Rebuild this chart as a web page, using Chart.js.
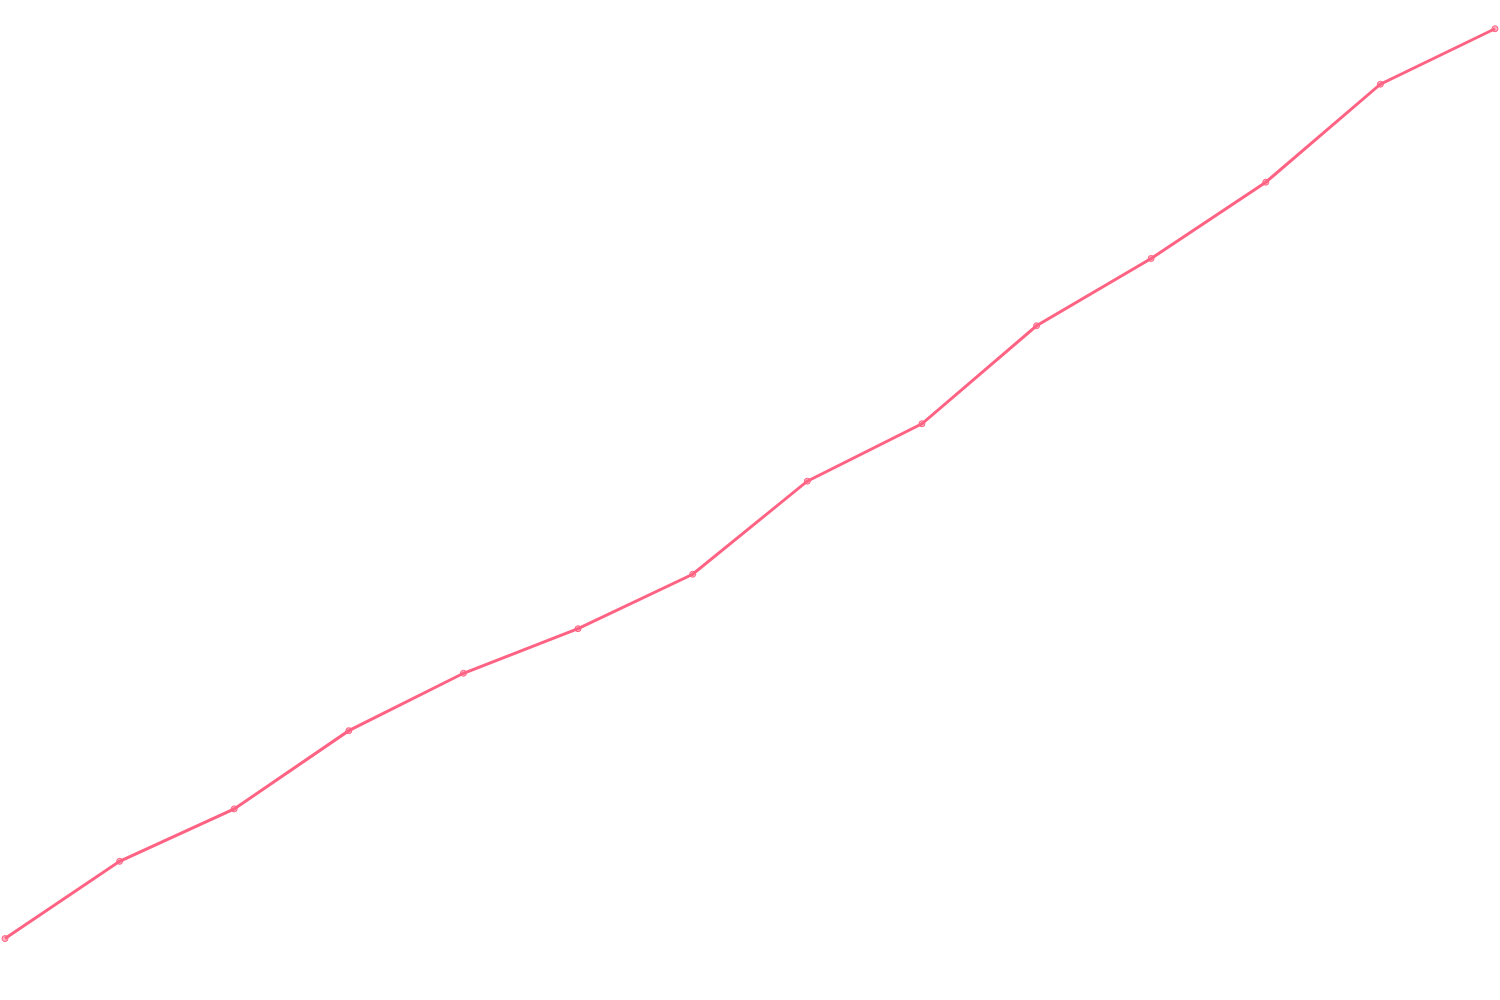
<!DOCTYPE html>
<html>
<head>
<meta charset="utf-8">
<script src="https://cdn.jsdelivr.net/npm/chart.js@4"></script>
<style>
html,body{margin:0;padding:0;background:#fff;}
#wrap{width:1500px;height:1000px;}
</style>
</head>
<body>
<div id="wrap"><canvas id="c"></canvas></div>
<script>
const categories = ["1","2","3","4","5","6","7","8","9","10","11","12","13","14"];
const values = [5.7, 13.5, 18.8, 26.7, 32.5, 37.0, 42.5, 51.9, 57.7, 67.6, 74.4, 82.1, 92.0, 97.6];
const yMin = 0;
const yMax = 100;

new Chart(document.getElementById('c'), {
  type: 'line',
  data: {
    labels: categories,
    datasets: [{
      data: values,
      borderColor: 'rgb(255,99,132)',
      backgroundColor: 'rgba(255,99,132,0.5)',
      borderWidth: 3,
      pointRadius: 3,
      pointBorderWidth: 1,
      tension: 0
    }]
  },
  options: {
    responsive: true,
    maintainAspectRatio: false,
    animation: false,
    layout: { padding: { left: 5, right: 5, top: 5, bottom: 5 } },
    plugins: { legend: { display: false }, tooltip: { enabled: false } },
    scales: {
      x: { display: false },
      y: { display: false, min: yMin, max: yMax }
    }
  }
});
</script>
</body>
</html>
